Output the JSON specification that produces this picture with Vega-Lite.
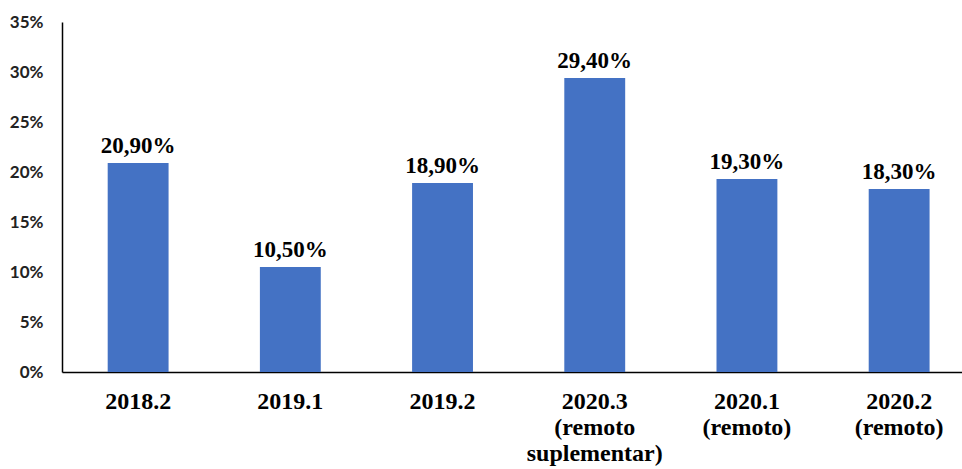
{
  "$schema": "https://vega.github.io/schema/vega-lite/v6.json",
  "width": 900,
  "height": 350,
  "autosize": {"type": "none"},
  "padding": {"left": 62, "top": 22, "right": 0, "bottom": 97},
  "background": "white",
  "config": {
    "view": {"stroke": null},
    "locale": {"number": {"decimal": ",", "thousands": ".", "grouping": [3], "currency": ["", "€"]}}
  },
  "data": {
    "values": [
      {"periodo": "2018.2", "taxa": 0.209},
      {"periodo": "2019.1", "taxa": 0.105},
      {"periodo": "2019.2", "taxa": 0.189},
      {"periodo": "2020.3 (remoto suplementar)", "taxa": 0.294},
      {"periodo": "2020.1 (remoto)", "taxa": 0.193},
      {"periodo": "2020.2 (remoto)", "taxa": 0.183}
    ]
  },
  "encoding": {
    "x": {
      "field": "periodo",
      "type": "nominal",
      "sort": null,
      "scale": {"paddingInner": 0.6, "paddingOuter": 0.2566, "align": 0.585},
      "axis": {
        "title": null,
        "labelAngle": 0,
        "ticks": false,
        "tickSize": 0,
        "labelPadding": 17,
        "labelBaseline": "top",
        "labelFont": "Liberation Serif",
        "labelFontWeight": "bold",
        "labelFontSize": 24,
        "labelColor": "#000000",
        "labelLineHeight": 26,
        "labelExpr": "split(datum.label, ' ')",
        "domainColor": "#000000",
        "domainWidth": 1.5,
        "grid": false
      }
    },
    "y": {
      "field": "taxa",
      "type": "quantitative",
      "scale": {"domain": [0, 0.35], "nice": false},
      "axis": {
        "title": null,
        "values": [0, 0.05, 0.1, 0.15, 0.2, 0.25, 0.3, 0.35],
        "format": ".0%",
        "ticks": false,
        "tickSize": 0,
        "labelPadding": 19,
        "labelFont": "Lato",
        "labelFontWeight": "bold",
        "labelFontSize": 17,
        "labelColor": "#222222",
        "domainColor": "#000000",
        "domainWidth": 1.5,
        "grid": false
      }
    }
  },
  "layer": [
    {"mark": {"type": "bar", "color": "#4472C4"}},
    {
      "mark": {
        "type": "text",
        "baseline": "alphabetic",
        "dy": -10,
        "font": "Liberation Serif",
        "fontWeight": "bold",
        "fontSize": 23,
        "color": "#000000"
      },
      "encoding": {"text": {"field": "taxa", "type": "quantitative", "format": ".2%"}}
    }
  ]
}
